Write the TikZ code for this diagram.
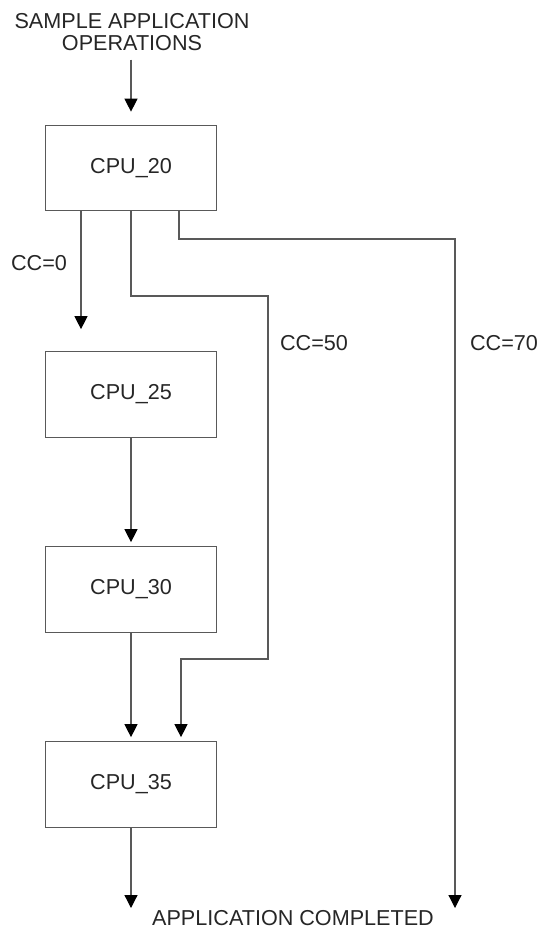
\documentclass[tikz,border=0pt]{standalone}
\usepackage{fontspec}
\setmainfont{Liberation Sans}
\usetikzlibrary{arrows.meta}

\begin{document}
\begin{tikzpicture}[x=0.5pt, y=-0.5pt, node distance=97.5pt,
      font=\fontsize{10.8}{10.8}\selectfont, text=black!85,
      blok/.style={draw=black!65, line width=0.6pt, minimum width=85.5pt, minimum height=42.75pt, align=center},
      panah/.style={draw=black!65, line width=0.6pt, -{Triangle[width=6.5pt, length=6.5pt, black]}}]
    \useasboundingbox (0,0) rectangle (538,928);
    \node[align=center] (judul) at (132,32) {SAMPLE APPLICATION\\OPERATIONS};
    \node[blok] (cpu20) at (131,168) {CPU\_20};
    \node[blok, below of=cpu20, node distance=113.25pt] (cpu25) {CPU\_25};
    \node[blok, below of=cpu25] (cpu30) {CPU\_30};
    \node[blok, below of=cpu30] (cpu35) {CPU\_35};
    \node (cc0) at (39,263) {CC=0};
    \node (cc50) at (314,343) {CC=50};
    \node (cc70) at (504,343) {CC=70};
    \node (selesai) at (293,918) {APPLICATION COMPLETED};
    % titik belok jalur
    \coordinate (belok1) at (268,296);
    \coordinate (belok2) at (268,659);
    \coordinate (belok3) at (455,239);
    \coordinate (akhir70) at (455,908);
    \coordinate (akhir35) at (131,908);
    \draw[panah, shorten <=1pt, shorten >=6.5pt] (judul.south -| cpu20) -- (cpu20.north);
    \draw[panah, shorten >=11pt] ([xshift=-25pt]cpu20.south) -- ([xshift=-25pt]cpu25.north);
    \draw[panah, shorten >=2pt] (cpu25) -- (cpu30);
    \draw[panah, shorten >=2pt] (cpu30) -- (cpu35);
    \draw[panah, shorten >=2pt] (cpu20.south) |- (belok1) -- (belok2) -| ([xshift=25pt]cpu35.north);
    \draw[panah] ([xshift=24pt]cpu20.south) |- (belok3) -- (akhir70);
    \draw[panah] (cpu35.south) -- (akhir35);
  \end{tikzpicture}
\end{document}
